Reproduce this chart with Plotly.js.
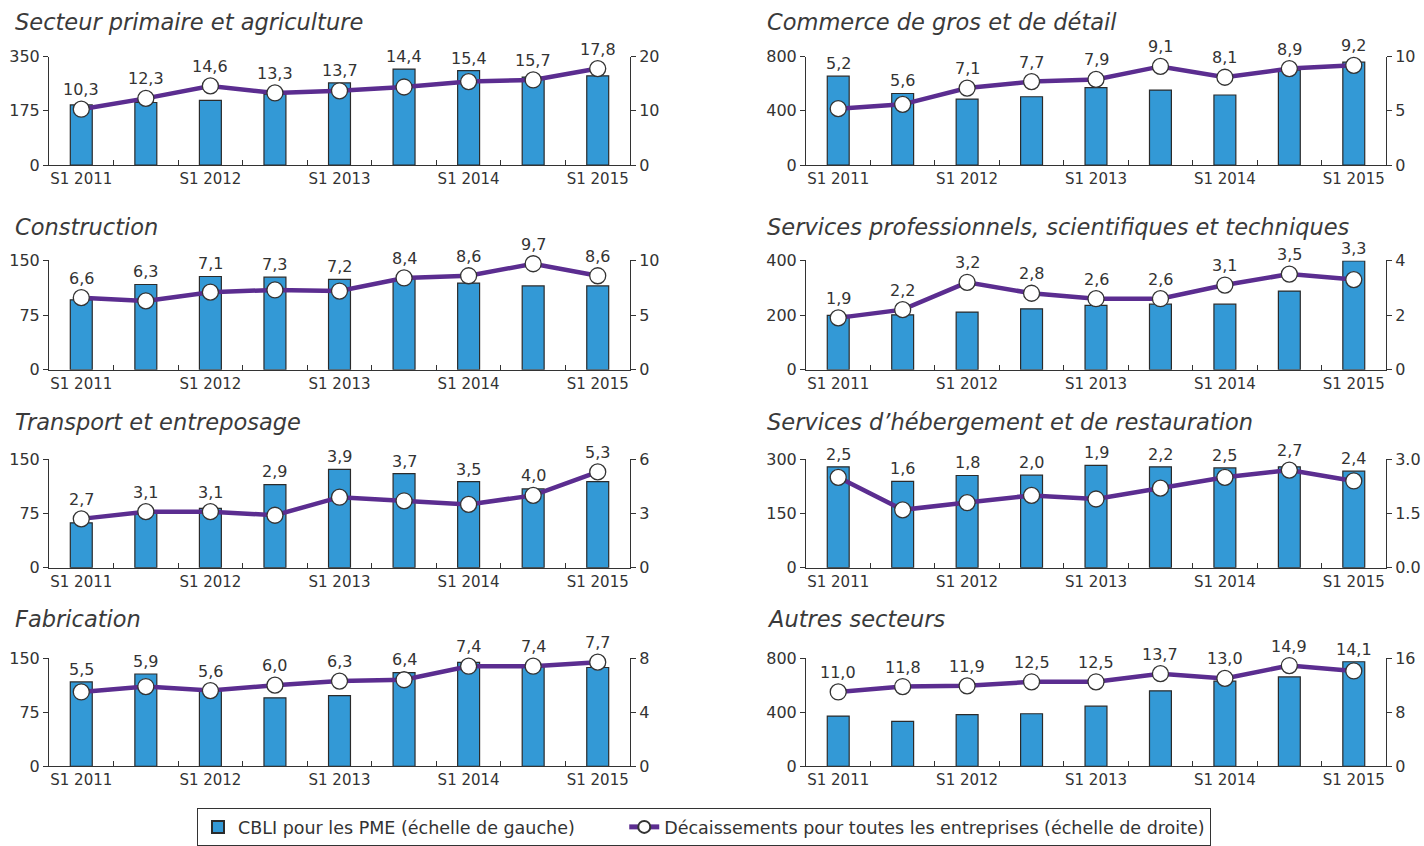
<!DOCTYPE html>
<html>
<head>
<meta charset="utf-8">
<script src="https://cdn.plot.ly/plotly-3.0.1.min.js"></script>
<style>html,body{margin:0;padding:0;background:#fff;}#chart{width:1424px;height:846px;}</style>
</head>
<body>
<div id="chart"></div>
<script>
// ---- Data ----
const categories = ["S1 2011","S2 2011","S1 2012","S2 2012","S1 2013","S2 2013","S1 2014","S2 2014","S1 2015"];
const xTickLabels = ["S1 2011","","S1 2012","","S1 2013","","S1 2014","","S1 2015"];

const titles = [
  "Secteur primaire et agriculture",
  "Commerce de gros et de détail",
  "Construction",
  "Services professionnels, scientifiques et techniques",
  "Transport et entreposage",
  "Services d’hébergement et de restauration",
  "Fabrication",
  "Autres secteurs"
];

// CBLI pour les PME (left scale)
const cbliPrimaire     = [194, 202, 209, 229, 265, 310, 305, 284, 288];
const cbliCommerce     = [656, 528, 487, 504, 572, 553, 517, 700, 759];
const cbliConstruction = [96, 117, 128, 127, 124, 125, 119, 115, 115];
const cbliServicesPro  = [199, 201, 211, 223, 236, 240, 240, 288, 398];
const cbliTransport    = [62, 77, 82, 115, 136, 130, 119, 109, 119];
const cbliHebergement  = [279, 239, 255, 256, 283, 279, 276, 279, 267];
const cbliFabrication  = [117, 128, 106, 95, 98, 130, 144, 140, 137];
const cbliAutres       = [372, 333, 382, 389, 445, 558, 630, 661, 773];

// Décaissements pour toutes les entreprises (right scale)
const decPrimaire     = [10.3, 12.3, 14.6, 13.3, 13.7, 14.4, 15.4, 15.7, 17.8];
const decCommerce     = [5.2, 5.6, 7.1, 7.7, 7.9, 9.1, 8.1, 8.9, 9.2];
const decConstruction = [6.6, 6.3, 7.1, 7.3, 7.2, 8.4, 8.6, 9.7, 8.6];
const decServicesPro  = [1.9, 2.2, 3.2, 2.8, 2.6, 2.6, 3.1, 3.5, 3.3];
const decTransport    = [2.7, 3.1, 3.1, 2.9, 3.9, 3.7, 3.5, 4.0, 5.3];
const decHebergement  = [2.5, 1.6, 1.8, 2.0, 1.9, 2.2, 2.5, 2.7, 2.4];
const decFabrication  = [5.5, 5.9, 5.6, 6.0, 6.3, 6.4, 7.4, 7.4, 7.7];
const decAutres       = [11.0, 11.8, 11.9, 12.5, 12.5, 13.7, 13.0, 14.9, 14.1];

// Axis tick values (left, right)
const leftTicks  = [[0,175,350],[0,400,800],[0,75,150],[0,200,400],[0,75,150],[0,150,300],[0,75,150],[0,400,800]];
const rightTicks = [[0,10,20],[0,5,10],[0,5,10],[0,2,4],[0,3,6],[0,1.5,3],[0,4,8],[0,8,16]];
const rightTickFormat = ["d","d","d","d","d",".1f","d","d"];

const legendNames = ["CBLI pour les PME (échelle de gauche)", "Décaissements pour toutes les entreprises (échelle de droite)"];

const barSeries  = [cbliPrimaire, cbliCommerce, cbliConstruction, cbliServicesPro, cbliTransport, cbliHebergement, cbliFabrication, cbliAutres];
const lineSeries = [decPrimaire, decCommerce, decConstruction, decServicesPro, decTransport, decHebergement, decFabrication, decAutres];

// ---- Layout geometry ----
const W = 1424, H = 846;
const FONT = "DejaVu Sans, sans-serif";
const TXT = "#333333";
const AX = "#333333";
const colX = [[49, 630], [806, 1386]];
const rowY = [[57, 166], [262, 372], [462, 571], [662, 771]];
const titleY = [22, 228, 425, 623];
const titleX = [13, 765];

const fmtComma = v => v.toFixed(1).replace(".", ",");
const legendPad = "\u00a0".repeat(8);

const traces = [];
const layout = {
  width: W, height: H,
  margin: {l:0, r:0, t:0, b:0},
  paper_bgcolor: "#ffffff",
  plot_bgcolor: "rgba(0,0,0,0)",
  font: {family: FONT, color: TXT, size: 16},
  showlegend: true,
  legend: {
    orientation: "h",
    x: 197/W, y: 1 - 813/H, xanchor: "left", yanchor: "top",
    bordercolor: AX, borderwidth: 1, bgcolor: "#ffffff",
    font: {family: FONT, size: 17.5, color: TXT},
    itemsizing: "constant"
  },
  annotations: [],
  bargap: 0.66
};

for (let i = 0; i < 8; i++) {
  const col = i % 2, row = Math.floor(i / 2);
  const xn = i + 1, yl = 2*i + 1, yr = 2*i + 2;
  const xName = xn === 1 ? "x" : "x" + xn;
  const ylName = yl === 1 ? "y" : "y" + yl;
  const yrName = "y" + yr;
  const xDom = [colX[col][0]/W, colX[col][1]/W];
  const yDom = [1 - rowY[row][1]/H, 1 - rowY[row][0]/H];
  const lMax = leftTicks[i][2], rMax = rightTicks[i][2];

  traces.push({
    type: "bar", x: categories, y: barSeries[i],
    xaxis: xName, yaxis: ylName,
    name: legendNames[0] + legendPad, showlegend: i === 0, legendrank: 1,
    marker: {color: "#3399d6", line: {color: "#2b2b2b", width: 1.2}},
    hoverinfo: "skip"
  });
  traces.push({
    type: "scatter", mode: "lines+markers", x: categories, y: lineSeries[i],
    xaxis: xName, yaxis: yrName,
    name: legendNames[1], showlegend: i === 0, legendrank: 2,
    line: {color: "#5b2d90", width: 4.5},
    marker: {symbol: "circle", size: 16, color: "#ffffff", line: {color: "#333333", width: 1.3}},
    cliponaxis: false,
    hoverinfo: "skip"
  });

  layout["xaxis" + (xn === 1 ? "" : xn)] = {
    domain: xDom, anchor: ylName, type: "category",
    range: [-0.5, 8.5],
    tickmode: "array", tickvals: categories, ticktext: xTickLabels,
    tickson: "boundaries", ticks: "inside", ticklen: 5, tickwidth: 1, tickcolor: AX,
    showline: true, linecolor: AX, linewidth: 1,
    showgrid: false, zeroline: false,
    tickfont: {family: FONT, size: 15, color: TXT}, tickangle: 0,
    fixedrange: true
  };
  layout["yaxis" + (yl === 1 ? "" : yl)] = {
    domain: yDom, anchor: xName, range: [0, lMax],
    tickmode: "array", tickvals: leftTicks[i],
    ticks: "outside", ticklen: 5, tickwidth: 1, tickcolor: AX,
    showline: true, linecolor: AX, linewidth: 1,
    showgrid: false, zeroline: false,
    tickfont: {family: FONT, size: 16, color: TXT},
    fixedrange: true
  };
  layout["yaxis" + yr] = {
    domain: yDom, anchor: xName, overlaying: ylName, side: "right", range: [0, rMax],
    tickmode: "array", tickvals: rightTicks[i], tickformat: rightTickFormat[i],
    ticks: "outside", ticklen: 5, tickwidth: 1, tickcolor: AX,
    showline: true, linecolor: AX, linewidth: 1,
    showgrid: false, zeroline: false,
    tickfont: {family: FONT, size: 16, color: TXT},
    fixedrange: true
  };

  // panel title
  layout.annotations.push({
    xref: "paper", yref: "paper", x: titleX[col]/W, y: 1 - titleY[row]/H,
    xanchor: "left", yanchor: "middle", showarrow: false,
    text: titles[i],
    font: {family: FONT, size: 22.5, color: "#3a3a3a", style: "italic"}
  });

  // value labels placed above the higher of bar top and marker
  const plotH = rowY[row][1] - rowY[row][0];
  lineSeries[i].forEach((v, k) => {
    const markerPx = v / rMax * plotH;
    const barPx = barSeries[i][k] / lMax * plotH;
    const bottomPx = Math.max(markerPx + 8, barPx + 1);
    layout.annotations.push({
      xref: xName, yref: yrName, x: categories[k], y: v,
      xanchor: "center", yanchor: "bottom", showarrow: false,
      yshift: bottomPx - markerPx,
      text: fmtComma(v),
      font: {family: FONT, size: 16, color: TXT}
    });
  });
}

Plotly.newPlot("chart", traces, layout, {displayModeBar: false, staticPlot: true});
</script>
</body>
</html>
